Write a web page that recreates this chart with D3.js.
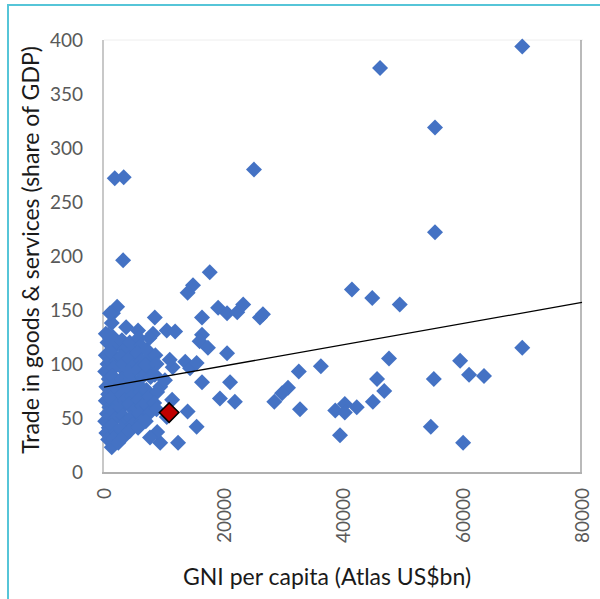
<!DOCTYPE html>
<html>
<head>
<meta charset="utf-8">
<script src="https://cdn.jsdelivr.net/npm/d3@7"></script>
<style>
  body { margin: 0; background: #fff; }
  svg { display: block; font-family: Lato, "Open Sans", sans-serif; }
</style>
</head>
<body>
<div id="chart"></div>
<script>
// GNI per capita (x) and trade share of GDP (y), one entry per country
var gniX = [
    70000, 46200, 55400, 55400, 25100, 1800, 3300, 3200, 17700, 14900, 14000,
    41500, 44900, 49500, 70000, 59600, 61100, 63600, 55200, 54700, 60100, 47700,
    45700, 46900, 45000, 42300, 40300, 38700, 40300, 39500, 36300, 32600, 32800,
    30800, 29800, 28500,
    2200, 1500, 8500, 16400, 19100, 20600, 22300, 23300, 26100, 26600, 1300, 700,
    5700, 8200, 10500, 11900, 16400, 16000, 17400, 20600, 11500, 13600, 14400,
    15500, 16400, 21100, 19400, 21900, 14000, 15500, 12400, 9400, 11400, 9400,
    10200, 7700, 11000, 10500, 8900, 7700,
    300, 600, 200, 800, 400, 700, 300, 900, 500, 200, 800, 400, 700, 600, 300,
    1500, 1900, 1300, 2100, 1600, 1400, 2000, 1700, 1200, 2200, 1500, 1900, 1300,
    2100, 1700, 1300, 2400,
    3000, 3400, 2800, 3200, 3600, 2900, 3300, 3000, 3500, 2800, 3200, 3600, 2900, 3400,
    4300, 4700, 4200, 4900, 4400, 4800, 4300, 4700, 4200, 5000, 4500, 4800, 4300,
    5800, 6200, 5600, 6300, 5900, 6400, 5700, 6100, 5800, 6400, 5900, 6200, 5700,
    7200, 7600, 7000, 7800, 7100, 7500, 7200, 7700, 7000,
    8600, 8800, 8500, 8900, 8400, 8800, 3700, 7600, 1000, 1000
];
var tradeY = [
    394, 374, 319, 222, 280, 272, 273, 196, 185, 173, 166,
    169, 161, 155, 115, 103, 90, 89, 86, 42, 27, 105,
    86, 75, 65, 60, 63, 57, 55, 34, 98, 93, 58,
    78, 73, 65,
    153, 147, 143, 143, 152, 147, 148, 155, 143, 146, 138, 127,
    131, 128, 131, 130, 127, 121, 115, 110, 97, 102, 96,
    101, 83, 83, 68, 65, 56, 42, 27, 27, 67, 79,
    85, 94, 104, 51, 37, 32,
    108, 100, 93, 86, 79, 72, 66, 60, 54, 47, 41, 36, 30, 120, 128,
    125, 117, 110, 103, 96, 89, 82, 75, 68, 62, 56, 49, 43,
    37, 31, 23, 27,
    122, 114, 107, 100, 93, 86, 79, 72, 66, 59, 52, 46, 40, 33,
    120, 112, 105, 98, 91, 84, 77, 70, 63, 57, 50, 44, 38,
    124, 117, 110, 103, 96, 88, 81, 74, 67, 61, 54, 47, 41,
    113, 106, 99, 88, 76, 70, 62, 55, 47,
    108, 100, 90, 74, 64, 58, 134, 124, 147, 124
];
// highlighted country
var highlightX = [10900];
var highlightY = [55];
// trend line end points
var trendX = [0, 80000];
var trendY = [78.5, 157];

var xTicks = [0, 20000, 40000, 60000, 80000];
var yTicks = [0, 50, 100, 150, 200, 250, 300, 350, 400];

var width = 600;
var height = 599;
var plot = {left: 104, right: 582, top: 40, bottom: 472};

var svg = d3.select("#chart").append("svg").attr("width", width).attr("height", height);

// outer frame
svg.append("rect")
    .attr("x", 8).attr("y", 5)
    .attr("width", 620).attr("height", 620)
    .attr("fill", "none")
    .attr("stroke", "#56c5d8")
    .attr("stroke-width", 2);

var x = d3.scaleLinear().domain([0, 80000]).range([plot.left, plot.right]);
var y = d3.scaleLinear().domain([0, 400]).range([plot.bottom, plot.top]);

// plot area border
svg.append("line").attr("x1", plot.left).attr("x2", plot.right + 1)
    .attr("y1", plot.top).attr("y2", plot.top).attr("stroke", "#eeeeee");
svg.append("line").attr("x1", plot.left - 1).attr("x2", plot.left - 1)
    .attr("y1", plot.top).attr("y2", plot.bottom + 1).attr("stroke", "#c8c8c8").attr("stroke-width", 2);
svg.append("line").attr("x1", plot.right - 1).attr("x2", plot.right - 1)
    .attr("y1", plot.top).attr("y2", plot.bottom + 1).attr("stroke", "#8c8c8c").attr("stroke-width", 1.2);
svg.append("line").attr("x1", plot.left - 2).attr("x2", plot.right)
    .attr("y1", plot.bottom + 1).attr("y2", plot.bottom + 1).attr("stroke", "#b0b0b0").attr("stroke-width", 2);

// y axis
var yAxis = svg.append("g")
    .attr("transform", "translate(" + plot.left + ",0)")
    .call(d3.axisLeft(y).tickValues(yTicks).tickSize(0).tickPadding(21));
yAxis.select(".domain").remove();
yAxis.selectAll("text")
    .attr("fill", "#595959")
    .style("font-size", "19px")
    .style("font-family", "Lato, sans-serif");

// x axis, labels turned upright
var xAxis = svg.append("g")
    .attr("transform", "translate(0," + plot.bottom + ")")
    .call(d3.axisBottom(x).tickValues(xTicks).tickSize(0).tickFormat(d3.format("d")));
xAxis.select(".domain").remove();
xAxis.selectAll("text")
    .attr("transform", "rotate(-90)")
    .attr("x", -16)
    .attr("y", 0)
    .attr("dy", "0.35em")
    .style("text-anchor", "end")
    .attr("fill", "#595959")
    .style("font-size", "19px")
    .style("font-family", "Lato, sans-serif");

// axis titles
svg.append("text")
    .attr("transform", "translate(39,250) rotate(-90)")
    .attr("text-anchor", "middle")
    .attr("fill", "#1a1a1a")
    .style("font-size", "23px")
    .text("Trade in goods & services (share of GDP)");

svg.append("text")
    .attr("x", 327)
    .attr("y", 585)
    .attr("text-anchor", "middle")
    .attr("fill", "#1a1a1a")
    .style("font-size", "23px")
    .text("GNI per capita (Atlas US$bn)");

// points
var diamond = d3.symbol().type(d3.symbolSquare).size(128);
svg.selectAll(".pt")
    .data(gniX)
    .enter()
    .append("path")
    .attr("class", "pt")
    .attr("d", diamond)
    .attr("fill", "#4472c4")
    .attr("transform", function (d, i) {
        return "translate(" + x(d) + "," + y(tradeY[i]) + ") rotate(45)";
    });

// trend line
svg.append("line")
    .attr("x1", x(trendX[0])).attr("y1", y(trendY[0]))
    .attr("x2", x(trendX[1])).attr("y2", y(trendY[1]))
    .attr("stroke", "#000")
    .attr("stroke-width", 1.3);

// highlighted point
var bigDiamond = d3.symbol().type(d3.symbolSquare).size(190);
svg.selectAll(".hl")
    .data(highlightX)
    .enter()
    .append("path")
    .attr("class", "hl")
    .attr("d", bigDiamond)
    .attr("fill", "#c00000")
    .attr("stroke", "#000")
    .attr("stroke-width", 1.5)
    .attr("transform", function (d, i) {
        return "translate(" + x(d) + "," + y(highlightY[i]) + ") rotate(45)";
    });
</script>
</body>
</html>
